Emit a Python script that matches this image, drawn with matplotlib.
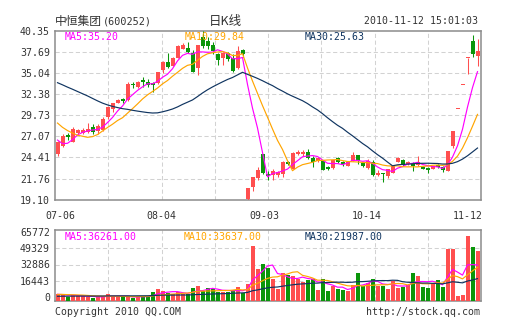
import numpy as np
import pandas as pd
import matplotlib
matplotlib.use('Agg')
import matplotlib.pyplot as plt
from matplotlib.transforms import ScaledTranslation

# 中恒集团 (600252) daily candles, 2010-07-06 .. 2010-11-12
opens = [24.90, 25.85, 27.20, 26.40, 27.45, 27.50, 27.60, 28.20, 27.75, 27.85,
         29.50, 30.55, 31.30, 31.65, 31.60, 33.65, 33.30, 34.10, 33.95, 33.80,
         33.80, 35.40, 36.45, 35.95, 36.95, 38.10, 38.15, 37.50, 35.60, 39.60,
         39.10, 38.55, 37.40, 36.90, 37.55, 36.90, 35.60, 37.95, 19.20, 20.70,
         21.80, 24.80, 22.30, 22.15, 22.20, 22.30, 23.90, 23.00, 24.85, 24.90,
         25.15, 24.40, 23.95, 24.00, 23.15, 23.08, 24.30, 23.90, 23.40, 24.00,
         24.68, 23.70, 23.08, 23.90, 22.25, 22.40, 22.05, 22.45, 23.90, 24.10,
         23.60, 23.70, 23.50, 23.20, 23.10, 23.00, 23.45, 23.20, 22.75, 25.80,
         30.47, 33.52, 36.87, 39.00, 37.15]
highs = [26.45, 27.30, 27.50, 28.25, 28.00, 28.10, 28.70, 28.60, 28.60, 29.55,
         30.90, 31.30, 31.75, 31.90, 33.85, 33.95, 34.05, 34.50, 34.25, 33.90,
         35.20, 36.60, 37.50, 37.10, 38.60, 38.85, 38.90, 37.95, 38.60, 40.35,
         39.50, 38.90, 37.60, 37.70, 37.70, 37.40, 38.40, 38.10, 20.60, 22.00,
         23.20, 24.85, 22.70, 22.90, 22.75, 23.95, 24.00, 25.05, 25.30, 25.40,
         25.50, 24.55, 24.45, 24.10, 23.30, 24.15, 24.50, 24.00, 24.00, 25.15,
         24.70, 23.90, 24.20, 24.10, 22.80, 22.45, 23.00, 23.40, 24.50, 24.20,
         24.00, 23.80, 24.55, 23.30, 23.20, 23.40, 23.60, 23.30, 25.18, 27.70,
         30.47, 33.52, 36.87, 39.76, 39.30]
lows = [24.65, 25.70, 26.60, 26.30, 27.25, 27.30, 27.50, 27.40, 27.40, 27.70,
        29.30, 30.10, 31.20, 31.20, 31.50, 33.20, 33.20, 33.30, 33.30, 32.70,
        33.70, 35.00, 35.70, 35.90, 36.90, 38.00, 37.50, 35.10, 34.80, 38.20,
        38.10, 37.40, 36.00, 36.05, 36.60, 35.20, 35.50, 37.00, 19.10, 20.20,
        21.60, 22.30, 21.60, 21.60, 22.00, 22.00, 23.50, 22.90, 24.70, 24.60,
        24.20, 23.20, 23.85, 22.80, 22.80, 23.00, 23.70, 23.40, 23.30, 23.95,
        23.60, 23.20, 22.90, 22.10, 22.10, 21.30, 21.80, 22.40, 23.80, 23.40,
        23.50, 22.65, 23.40, 22.90, 22.45, 22.90, 23.10, 22.60, 22.70, 25.60,
        30.47, 33.52, 34.94, 37.00, 35.87]
closes = [26.30, 27.10, 26.95, 28.05, 27.85, 27.85, 28.00, 27.60, 28.35, 29.30,
          30.75, 31.20, 31.60, 31.55, 33.60, 33.55, 33.90, 33.85, 33.50, 33.55,
          35.10, 36.45, 35.80, 36.95, 38.45, 38.60, 37.70, 35.20, 38.50, 38.40,
          38.40, 37.75, 36.70, 37.50, 36.85, 35.30, 37.80, 37.45, 20.55, 21.95,
          22.85, 22.40, 22.10, 22.65, 22.55, 23.85, 23.60, 24.95, 25.05, 25.05,
          24.30, 23.90, 24.35, 22.87, 23.00, 24.10, 23.90, 23.65, 23.90, 24.75,
          24.00, 23.35, 24.00, 22.25, 22.50, 22.30, 22.90, 23.30, 24.30, 23.50,
          23.90, 23.40, 23.90, 22.95, 22.80, 23.35, 23.15, 22.89, 25.18, 27.70,
          30.47, 33.52, 36.87, 37.40, 37.74]
volumes = [6730, 6030, 4020, 6030, 5030, 4720, 4020, 3320, 4020, 4720,
           7340, 4720, 4020, 4020, 4720, 3320, 4720, 4720, 4720, 9050,
           12360, 10050, 8340, 7340, 9050, 7340, 6730, 13070, 15080, 10050,
           13070, 12360, 9350, 9350, 9350, 11060, 14070, 7740, 17390, 55280,
           32460, 37490, 33470, 22410, 12360, 27840, 25830, 25130, 22410, 19100,
           21110, 22410, 11060, 21810, 10050, 15080, 11760, 11060, 10050, 15780,
           28440, 15080, 18390, 22410, 15080, 15080, 12360, 20100, 13370, 14370,
           15780, 28440, 25130, 14370, 13370, 18390, 21110, 14370, 52560, 52560,
           5030, 5730, 65772, 54270, 50250]

# the 29 sessions before 07-06, only used to seed the moving averages
pre_closes = [35.2, 35.6, 36.0, 36.3, 36.2, 36.4, 37.0, 37.6, 37.8, 37.5,
              36.8, 36.0, 35.7, 36.2, 37.1, 37.0, 36.7, 36.1, 35.3, 34.5,
              32.5, 31.0, 31.2, 30.6, 29.1, 29.35, 26.75, 25.75, 24.85]
pre_volumes = [3500, 3900, 3200, 4100, 3600, 3800, 4200, 3400, 3700, 3900,
               3300, 4000, 3600, 4100, 3800, 3500, 4300, 3900, 3700, 4100,
               5800, 6400, 7100, 6900, 6200, 7400, 6600, 5900, 7200]

date_labels = ['07-06', '08-04', '09-03', '10-14', '11-12']
date_ticks = [0.5, 20.7, 41.3, 61.9, 82.1]
price_ticks = [19.10, 21.76, 24.41, 27.07, 29.73, 32.38, 35.04, 37.69, 40.35]
price_labels = ['19.10', '21.76', '24.41', '27.07', '29.73', '32.38', '35.04', '37.69', '40.35']
vol_ticks = [0, 16443, 32886, 49329, 65772]
price_ma_text = ['MA5:35.20', 'MA10:29.84', 'MA30:25.63']
vol_ma_text = ['MA5:36261.00', 'MA10:33637.00', 'MA30:21987.00']

RED = '#FF4F4F'
GREEN = '#0A960A'
MA_COLORS = ['#FF00FF', '#FFA500', '#0F3460']
GRID = '#D2D2D2'
FRAME = '#8C8C8C'
TXT = '#333333'
MONO = 'DejaVu Sans Mono'

W, H = 505, 330
fig = plt.figure(figsize=(W / 100, H / 100), dpi=100)


def box(l, t, r, b):
    return [l / W, 1 - b / H, (r - l) / W, (b - t) / H]


ax = fig.add_axes(box(55, 30.7, 481, 199.7))
axv = fig.add_axes(box(55, 230, 481, 301))

x = np.arange(len(closes))
o, h, l, c = map(np.array, (opens, highs, lows, closes))
prev = np.r_[pre_closes[-1], c[:-1]]
up = (c > o) | ((c == o) & (c >= prev))
cols = np.where(up, RED, GREEN)

xlim = (-0.5, 84.7)

# price panel
ax.vlines(x, l, h, colors=cols, lw=0.75, zorder=3)
ax.bar(x, np.maximum(np.abs(c - o), 0.15), bottom=np.minimum(o, c), width=0.8,
       color=cols, linewidth=0, zorder=4)

all_c = pd.Series(pre_closes + closes)
for n, col in zip([5, 10, 30], MA_COLORS):
    ma = all_c.rolling(n).mean().values[len(pre_closes):]
    ax.plot(x, ma, color=col, lw=0.85, zorder=5)

ax.set_xlim(xlim)
ax.set_ylim(price_ticks[0], price_ticks[-1])
ax.set_yticks(price_ticks, price_labels)
ax.set_xticks(date_ticks, date_labels)
ax.tick_params(length=0, labelsize=7.1, colors=TXT)
ax.tick_params(axis='y', pad=3.6)
ax.tick_params(axis='x', pad=8)
for t in ax.get_xticklabels() + ax.get_yticklabels():
    t.set_family(MONO)
for v in price_ticks[1:-1]:
    ax.axhline(v, color=GRID, lw=0.75, ls=(0, (4, 2.5)), zorder=1)

# volume panel
axv.bar(x, volumes, width=0.8, color=cols, linewidth=0, zorder=3)
all_v = pd.Series(pre_volumes + volumes, dtype=float)
for n, col in zip([5, 10, 30], MA_COLORS):
    ma = all_v.rolling(n).mean().values[len(pre_volumes):]
    axv.plot(x, ma, color=col, lw=0.85, zorder=5)

axv.set_xlim(xlim)
axv.set_ylim(0, 71500)
axv.set_xticks([])
axv.set_yticks(vol_ticks, [str(v) for v in vol_ticks])
axv.tick_params(length=0, labelsize=7.1, colors=TXT, pad=3.6)
for t in axv.get_yticklabels():
    t.set_family(MONO)
    t.set_va('baseline')
off = ScaledTranslation(0, 3.7 / 100, fig.dpi_scale_trans)
for v in vol_ticks[1:-1]:
    axv.plot([0, 1], [v, v], transform=axv.get_yaxis_transform() + off,
             color=GRID, lw=0.75, ls=(0, (4, 2.5)), zorder=1)

for a in (ax, axv):
    for k in range(1, 8):
        a.axvline(xlim[0] + k * (xlim[1] - xlim[0]) / 8, color=GRID, lw=0.75,
                  ls=(0, (4, 2.5)), zorder=1)
    for s in a.spines.values():
        s.set_color(FRAME)
        s.set_linewidth(1.1)

# legends inside the panels
for txt, col, px in zip(price_ma_text, MA_COLORS, [65, 185, 305]):
    fig.text(px / W, 1 - 36.5 / H, txt, color=col, fontsize=7.1, family=MONO,
             va='center', ha='left', zorder=2)
for txt, col, px in zip(vol_ma_text, MA_COLORS, [65, 184, 305]):
    fig.text(px / W, 1 - 237 / H, txt, color=col, fontsize=7.1, family=MONO,
             va='center', ha='left', zorder=2)

# header
fig.text(55 / W, 1 - 21 / H, '中恒集团', color=TXT, fontsize=8.5,
         family=['Noto Sans CJK SC', 'DejaVu Sans'], va='center', ha='left')
fig.text(103 / W, 1 - 21 / H, '(600252)', color=TXT, fontsize=7.3,
         family=MONO, va='center', ha='left')
fig.text(225 / W, 1 - 21 / H, '日K线', color=TXT, fontsize=9,
         family=['Noto Sans CJK SC', 'DejaVu Sans'], va='center', ha='center')
fig.text(478 / W, 1 - 21 / H, '2010-11-12 15:01:03', color=TXT, fontsize=7.1,
         family=MONO, va='center', ha='right')

# footer
fig.text(55 / W, 1 - 311.7 / H, 'Copyright 2010 QQ.COM', color=TXT, fontsize=7.1,
         family=MONO, va='center', ha='left')
fig.text(480 / W, 1 - 311.7 / H, 'http://stock.qq.com', color=TXT, fontsize=7.1,
         family=MONO, va='center', ha='right')

fig.savefig('out.png', dpi=100, facecolor='white')
